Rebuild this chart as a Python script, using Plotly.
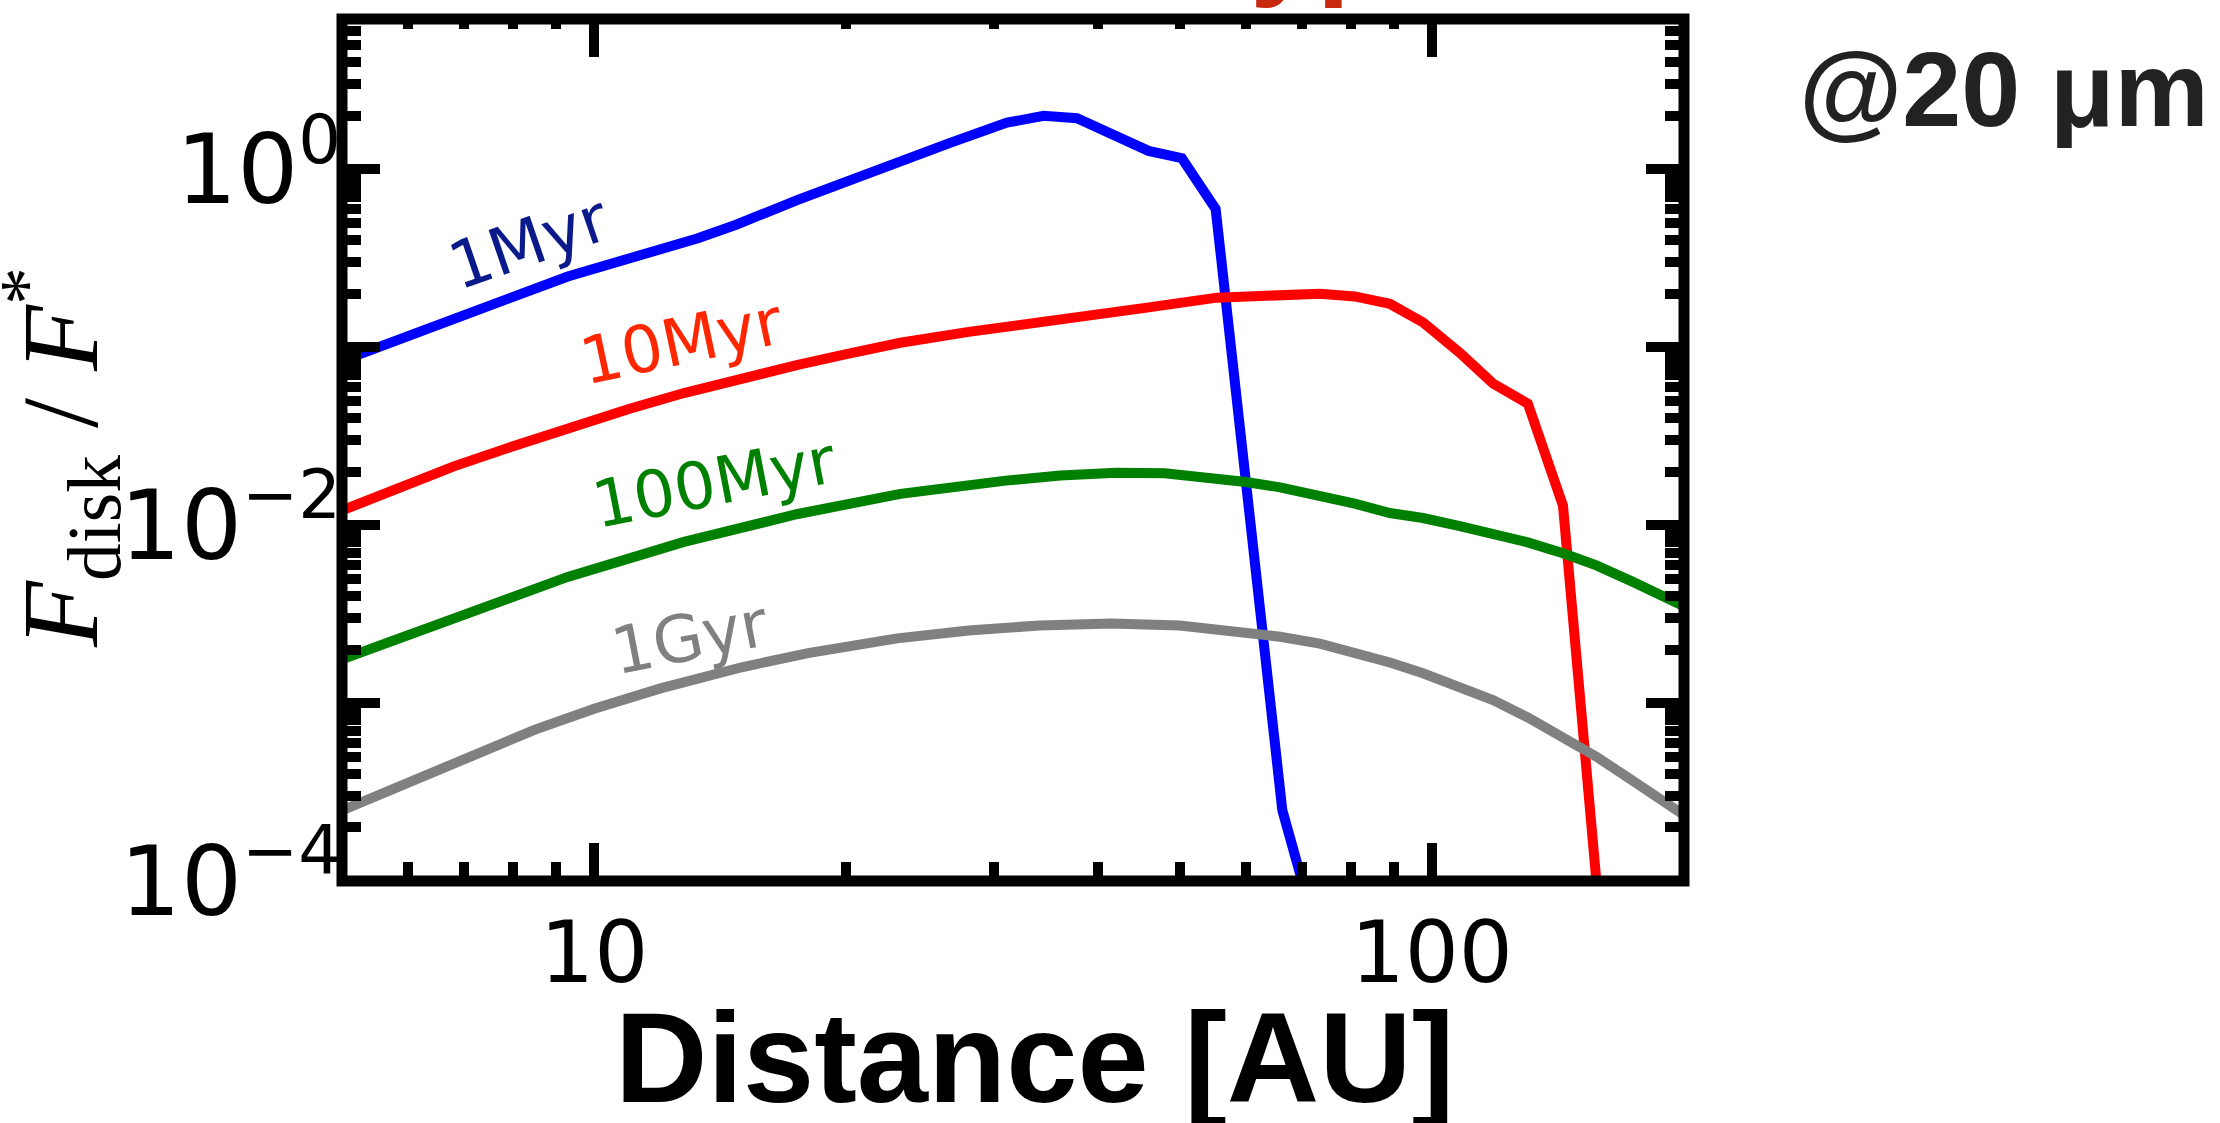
import math
import plotly.graph_objects as go

# Disk-to-star flux ratio at 20 um versus orbital distance, one curve per system age
dist_1myr = [5.0, 7.3, 9.3, 13.3, 14.8, 17.5, 23.0, 26.6, 31.1, 34.4, 37.7, 41.7, 45.9, 50.3, 55.2, 66.3, 71.5]
flux_1myr = [0.084, 0.165, 0.25, 0.41, 0.49, 0.674, 1.11, 1.41, 1.83, 2.0, 1.94, 1.58, 1.27, 1.156, 0.598, 2.5e-4, 7e-5]

dist_10myr = [5.0, 6.0, 6.8, 8.0, 9.3, 11.0, 12.8, 15.0, 17.5, 20.0, 23.2, 28.0, 34.4, 41.3, 45.7, 55.4, 64.1,
              73.5, 80.9, 89.1, 97.6, 108.0, 118.3, 130.2, 143.4, 157.5]
flux_10myr = [0.0121, 0.0171, 0.0214, 0.0278, 0.0352, 0.0450, 0.0553, 0.0671, 0.0796, 0.0915, 0.106, 0.122, 0.138,
              0.1536, 0.167, 0.19, 0.198, 0.200, 0.193, 0.1755, 0.138, 0.0931, 0.0626, 0.0482, 0.0129, 9e-5]

dist_100myr = [5.0, 6.8, 9.3, 12.8, 17.5, 23.2, 27.0, 31.0, 36.0, 42.0, 48.0, 55.0, 60.0, 65.9, 73.5, 80.9, 89.1,
               97.6, 108.0, 118.3, 130.2, 143.4, 157.2, 173.8, 200.0]
flux_100myr = [1.76e-3, 3.03e-3, 5.12e-3, 8.05e-3, 0.01156, 0.0150, 0.0166, 0.0178, 0.0190, 0.0197, 0.0196, 0.0186,
               0.0175, 0.0163, 0.01466, 0.0132, 0.0117, 0.01097, 9.87e-3, 8.97e-3, 8.0e-3, 6.95e-3, 5.94e-3,
               4.80e-3, 3.5e-3]

dist_1gyr = [5.0, 6.0, 7.0, 8.5, 10.0, 12.0, 15.0, 18.0, 23.0, 28.0, 34.0, 41.5, 50.0, 58.0, 65.9, 73.5, 80.9,
             89.1, 97.6, 108.0, 118.3, 130.2, 143.4, 157.2, 173.8, 200.0]
flux_1gyr = [2.49e-4, 3.6e-4, 4.9e-4, 7.1e-4, 9.3e-4, 1.21e-3, 1.59e-3, 1.91e-3, 2.31e-3, 2.56e-3, 2.73e-3, 2.80e-3,
             2.73e-3, 2.54e-3, 2.36e-3, 2.16e-3, 1.93e-3, 1.69e-3, 1.47e-3, 1.24e-3, 1.04e-3, 8.3e-4, 6.5e-4,
             5.0e-4, 3.65e-4, 2.35e-4]

series_names = ["1Myr", "10Myr", "100Myr", "1Gyr"]
line_colors = ["#0000ff", "#ff0000", "#008000", "#808080"]
label_colors = ["#0b1a8a", "#ff2600", "#008000", "#808080"]

x_range = [5, 200]
y_range = [1e-4, 7]
x_major = [10, 100]
x_major_text = ["10", "100"]
y_major = [1e-4, 1e-3, 1e-2, 1e-1, 1]
y_major_text = ["10<sup>−4</sup>", "", "10<sup>−2</sup>", "", "10<sup>0</sup>"]

# figure geometry (pixels)
FIG_W, FIG_H = 2220, 1123
L, T, R, B = 342, 19, 536, 242
W, H = FIG_W - L - R, FIG_H - T - B


def px(xp):
    return (xp - L) / W


def py(yp):
    return (T + H - yp) / H


x_minor = [6, 7, 8, 9, 20, 30, 40, 50, 60, 70, 80, 90]
y_minor = [m * 10.0 ** d for d in range(-4, 1) for m in range(2, 10) if m * 10.0 ** d < 7]

fig = go.Figure()
all_dist = [dist_1myr, dist_10myr, dist_100myr, dist_1gyr]
all_flux = [flux_1myr, flux_10myr, flux_100myr, flux_1gyr]
for name, xs, ys, col in zip(series_names, all_dist, all_flux, line_colors):
    fig.add_trace(go.Scatter(x=xs, y=ys, mode="lines", name=name,
                             line=dict(color=col, width=10), showlegend=False))

# invisible trace carrying the top x axis
fig.add_trace(go.Scatter(x=[10], y=[1e-2], xaxis="x2", mode="markers",
                         marker=dict(opacity=0), showlegend=False, hoverinfo="skip"))

tick_font_x = dict(family="DejaVu Sans", size=85, color="black")
tick_font_y = dict(family="DejaVu Sans", size=96, color="black")

fig.update_layout(
    width=FIG_W, height=FIG_H,
    margin=dict(l=L, r=R, t=T, b=B, pad=0),
    paper_bgcolor="white", plot_bgcolor="white",
    xaxis=dict(
        type="log", range=[math.log10(x_range[0]), math.log10(x_range[1])],
        showgrid=False, zeroline=False, showline=False,
        tickmode="array", tickvals=x_major, ticktext=x_major_text,
        ticks="inside", ticklen=38, tickwidth=10, tickcolor="black",
        tickfont=tick_font_x, ticklabelstandoff=15,
        minor=dict(tickvals=x_minor, ticks="inside", ticklen=19, tickwidth=10,
                   tickcolor="black", showgrid=False),
    ),
    xaxis2=dict(
        type="log", range=[math.log10(x_range[0]), math.log10(x_range[1])],
        overlaying="x", side="top", anchor="y",
        showgrid=False, zeroline=False, showline=False, showticklabels=False,
        tickmode="array", tickvals=x_major,
        ticks="inside", ticklen=38, tickwidth=10, tickcolor="black",
        minor=dict(tickvals=x_minor, ticks="inside", ticklen=10, tickwidth=10,
                   tickcolor="black", showgrid=False),
    ),
    yaxis=dict(
        type="log", range=[math.log10(y_range[0]), math.log10(y_range[1])],
        showgrid=False, zeroline=False, showline=False, mirror="ticks",
        tickmode="array", tickvals=y_major, ticktext=y_major_text,
        ticks="inside", ticklen=38, tickwidth=10, tickcolor="black",
        tickfont=tick_font_y,
        minor=dict(tickvals=y_minor, ticks="inside", ticklen=19, tickwidth=10,
                   tickcolor="black", showgrid=False),
    ),
    shapes=[dict(type="rect", xref="paper", yref="paper", x0=0, x1=1, y0=0, y1=1,
                 line=dict(color="black", width=11), fillcolor="rgba(0,0,0,0)",
                 layer="above")],
)

annotations = []
# age labels along each curve
label_pos = [(528, 242, -19), (681, 341, -12), (714, 482, -11), (689, 637, -11)]
for name, col, (xp, yp, ang) in zip(series_names, label_colors, label_pos):
    annotations.append(dict(text=name, x=px(xp), y=py(yp), xref="paper", yref="paper",
                            xanchor="center", yanchor="middle", textangle=ang, showarrow=False,
                            font=dict(family="DejaVu Sans", size=65, color=col)))

# axis titles
annotations.append(dict(text="Distance [AU]", x=px(1034), y=py(1057), xref="paper", yref="paper",
                        xanchor="center", yanchor="middle", showarrow=False,
                        font=dict(family="Liberation Sans", size=128, color="black", weight="bold")))
annotations.append(dict(text="<i>F</i><sub>disk</sub> / <i>F</i><sup>*</sup>",
                        x=px(60), y=py(458), xref="paper", yref="paper",
                        xanchor="center", yanchor="middle", textangle=-90, showarrow=False,
                        font=dict(family="Liberation Serif", size=108, color="black")))
# wavelength tag
annotations.append(dict(text="@20 μm", x=px(1797), y=py(89), xref="paper", yref="paper",
                        xanchor="left", yanchor="middle", showarrow=False,
                        font=dict(family="Liberation Sans", size=106, color="#222222", weight="bold")))
# panel heading running off the top edge
annotations.append(dict(text="type", x=px(1208), y=py(-59), xref="paper", yref="paper",
                        xanchor="left", yanchor="middle", showarrow=False,
                        font=dict(family="Liberation Sans", size=120, color="#c8280e", weight="bold")))

fig.update_layout(annotations=annotations)
fig.write_html("out.html")
